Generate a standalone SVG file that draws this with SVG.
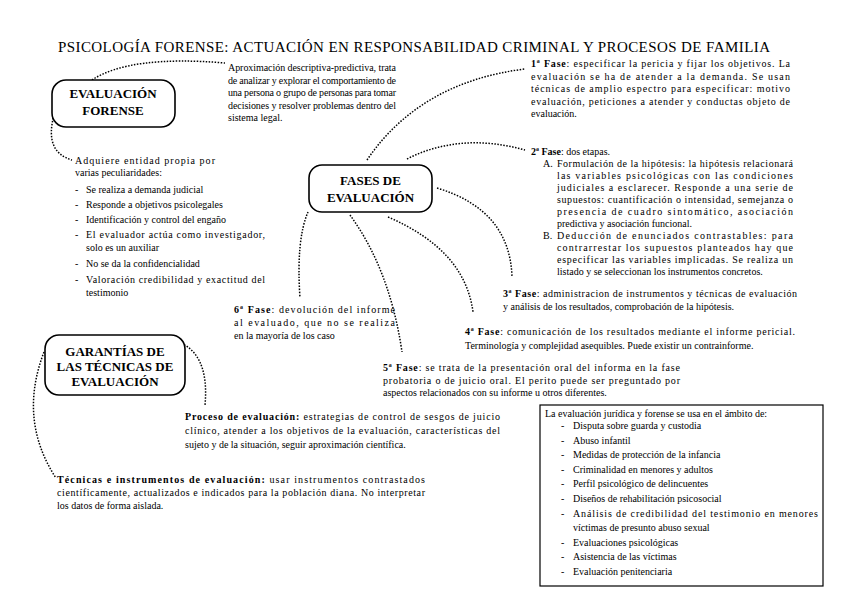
<svg xmlns="http://www.w3.org/2000/svg" width="848" height="599" viewBox="0 0 848 599">
<style>
text{font-family:"Liberation Serif","DejaVu Serif",serif;fill:#000}
.t{font-size:10px}
.h{font-size:13px;font-weight:bold;text-anchor:middle}
.title{font-size:15px}
.node{fill:#fff;stroke:#000;stroke-width:1.6}
.conn path{fill:none;stroke:#000;stroke-width:1.5;stroke-dasharray:1.5,1.5}
.box{fill:#fff;stroke:#000;stroke-width:1.2}
</style>
<rect width="848" height="599" fill="#fff"/>
<text class="title" x="58" y="52" textLength="712" lengthAdjust="spacing">PSICOLOGÍA FORENSE: ACTUACIÓN EN RESPONSABILIDAD CRIMINAL Y PROCESOS DE FAMILIA</text>

<g id="connectors" class="conn">
<path d="M92,80 Q130,55 225,63"/>
<path d="M54,115 Q44,152 72,160"/>
<path d="M367,160 Q420,82 525,69"/>
<path d="M407,159 Q460,132 525,150"/>
<path d="M437,188 Q510,210 512,277"/>
<path d="M388,217 Q465,250 473,312"/>
<path d="M350,215 Q390,270 402,352"/>
<path d="M308,212 Q296,240 300,298"/>
<path d="M173,340 Q210,350 205,405"/>
<path d="M44,352 Q18,420 56,478"/>
</g>

<g id="evaluacion-forense">
<rect class="node" x="52" y="80" width="123" height="47" rx="14"/>
<text class="h" x="113" y="98">EVALUACIÓN</text>
<text class="h" x="113" y="115">FORENSE</text>
</g>

<g id="aproximacion">
<text class="t" x="228" y="71" textLength="168" lengthAdjust="spacing">Aproximación descriptiva-predictiva, trata</text>
<text class="t" x="228" y="83.5" textLength="168" lengthAdjust="spacing">de analizar y explorar el comportamiento de</text>
<text class="t" x="228" y="96" textLength="168" lengthAdjust="spacing">una persona o grupo de personas para tomar</text>
<text class="t" x="228" y="108.5" textLength="168" lengthAdjust="spacing">decisiones y resolver problemas dentro del</text>
<text class="t" x="228" y="121">sistema legal.</text>
</g>

<g id="peculiaridades">
<text class="t" x="75" y="164" textLength="140" lengthAdjust="spacing">Adquiere entidad propia por</text>
<text class="t" x="75" y="176">varias peculiaridades:</text>
<text class="t" x="75" y="193">-</text><text class="t" x="86" y="193">Se realiza a demanda judicial</text>
<text class="t" x="75" y="208">-</text><text class="t" x="86" y="208">Responde a objetivos psicolegales</text>
<text class="t" x="75" y="223">-</text><text class="t" x="86" y="223">Identificación y control del engaño</text>
<text class="t" x="75" y="238">-</text><text class="t" x="86" y="238" textLength="179" lengthAdjust="spacing">El evaluador actúa como investigador,</text>
<text class="t" x="86" y="251">solo es un auxiliar</text>
<text class="t" x="75" y="267">-</text><text class="t" x="86" y="267">No se da la confidencialidad</text>
<text class="t" x="75" y="283">-</text><text class="t" x="86" y="283" textLength="179" lengthAdjust="spacing">Valoración credibilidad y exactitud del</text>
<text class="t" x="86" y="296">testimonio</text>
</g>

<g id="fases-de-evaluacion">
<rect class="node" x="309" y="165" width="123" height="47" rx="13"/>
<text class="h" x="370.5" y="185">FASES DE</text>
<text class="h" x="370.5" y="202">EVALUACIÓN</text>
</g>

<g id="fase1">
<text class="t" x="531" y="67" textLength="259" lengthAdjust="spacing"><tspan font-weight="bold">1ª Fase</tspan>: especificar la pericia y fijar los objetivos. La</text>
<text class="t" x="531" y="79.5" textLength="259" lengthAdjust="spacing">evaluación se ha de atender a la demanda. Se usan</text>
<text class="t" x="531" y="92" textLength="259" lengthAdjust="spacing">técnicas de amplio espectro para especificar: motivo</text>
<text class="t" x="531" y="104.5" textLength="259" lengthAdjust="spacing">evaluación, peticiones a atender y conductas objeto de</text>
<text class="t" x="531" y="117">evaluación.</text>
</g>

<g id="fase2">
<text class="t" x="531" y="155"><tspan font-weight="bold">2ª Fase</tspan>: dos etapas.</text>
<text class="t" x="543" y="167">A.</text>
<text class="t" x="557" y="167" textLength="236" lengthAdjust="spacing">Formulación de la hipótesis: la hipótesis relacionará</text>
<text class="t" x="557" y="179" textLength="236" lengthAdjust="spacing">las variables psicológicas con las condiciones</text>
<text class="t" x="557" y="191" textLength="236" lengthAdjust="spacing">judiciales a esclarecer. Responde a una serie de</text>
<text class="t" x="557" y="203" textLength="236" lengthAdjust="spacing">supuestos: cuantificación o intensidad, semejanza o</text>
<text class="t" x="557" y="215" textLength="236" lengthAdjust="spacing">presencia de cuadro sintomático, asociación</text>
<text class="t" x="557" y="227">predictiva y asociación funcional.</text>
<text class="t" x="543" y="239">B.</text>
<text class="t" x="557" y="239" textLength="236" lengthAdjust="spacing">Deducción de enunciados contrastables: para</text>
<text class="t" x="557" y="251" textLength="236" lengthAdjust="spacing">contrarrestar los supuestos planteados hay que</text>
<text class="t" x="557" y="263" textLength="236" lengthAdjust="spacing">especificar las variables implicadas. Se realiza un</text>
<text class="t" x="557" y="275">listado y se seleccionan los instrumentos concretos.</text>
</g>

<g id="fase3">
<text class="t" x="503" y="297" textLength="294" lengthAdjust="spacing"><tspan font-weight="bold">3ª Fase</tspan>: administracion de instrumentos y técnicas de evaluación</text>
<text class="t" x="503" y="310">y análisis de los resultados, comprobación de la hipótesis.</text>
</g>

<g id="fase4">
<text class="t" x="465" y="335" textLength="330" lengthAdjust="spacing"><tspan font-weight="bold">4ª Fase</tspan>: comunicación de los resultados mediante el informe pericial.</text>
<text class="t" x="465" y="349">Terminología y complejidad asequibles. Puede existir un contrainforme.</text>
</g>

<g id="fase5">
<text class="t" x="383" y="371" textLength="297" lengthAdjust="spacing"><tspan font-weight="bold">5ª Fase</tspan>: se trata de la presentación oral del informa en la fase</text>
<text class="t" x="383" y="384" textLength="297" lengthAdjust="spacing">probatoria o de juicio oral. El perito puede ser preguntado por</text>
<text class="t" x="383" y="396">aspectos relacionados con su informe u otros diferentes.</text>
</g>

<g id="fase6">
<text class="t" x="234" y="313" textLength="161" lengthAdjust="spacing"><tspan font-weight="bold">6ª Fase</tspan>: devolución del informe</text>
<text class="t" x="234" y="326" textLength="161" lengthAdjust="spacing">al evaluado, que no se realiza</text>
<text class="t" x="234" y="339">en la mayoría de los caso</text>
</g>

<g id="garantias">
<rect class="node" x="45" y="335" width="140" height="60" rx="14"/>
<text class="h" x="115" y="356">GARANTÍAS DE</text>
<text class="h" x="115" y="371">LAS TÉCNICAS DE</text>
<text class="h" x="115" y="386">EVALUACIÓN</text>
</g>

<g id="proceso">
<text class="t" x="185" y="420" textLength="315" lengthAdjust="spacing"><tspan font-weight="bold">Proceso de evaluación:</tspan> estrategias de control de sesgos de juicio</text>
<text class="t" x="185" y="434" textLength="315" lengthAdjust="spacing">clínico, atender a los objetivos de la evaluación, características del</text>
<text class="t" x="185" y="448">sujeto y de la situación, seguir aproximación científica.</text>
</g>

<g id="tecnicas">
<text class="t" x="57" y="483" textLength="368" lengthAdjust="spacing"><tspan font-weight="bold">Técnicas e instrumentos de evaluación:</tspan> usar instrumentos contrastados</text>
<text class="t" x="57" y="496" textLength="368" lengthAdjust="spacing">científicamente, actualizados e indicados para la población diana. No interpretar</text>
<text class="t" x="57" y="509">los datos de forma aislada.</text>
</g>

<g id="ambito">
<rect class="box" x="540" y="405" width="283" height="181"/>
<text class="t" x="545" y="417">La evaluación jurídica y forense se usa en el ámbito de:</text>
<text class="t" x="561" y="429">-</text><text class="t" x="573" y="429">Disputa sobre guarda y custodia</text>
<text class="t" x="561" y="444">-</text><text class="t" x="573" y="444">Abuso infantil</text>
<text class="t" x="561" y="458">-</text><text class="t" x="573" y="458">Medidas de protección de la infancia</text>
<text class="t" x="561" y="473">-</text><text class="t" x="573" y="473">Criminalidad en menores y adultos</text>
<text class="t" x="561" y="487">-</text><text class="t" x="573" y="487">Perfil psicológico de delincuentes</text>
<text class="t" x="561" y="502">-</text><text class="t" x="573" y="502">Diseños de rehabilitación psicosocial</text>
<text class="t" x="561" y="517">-</text><text class="t" x="573" y="517" textLength="245" lengthAdjust="spacing">Análisis de credibilidad del testimonio en menores</text>
<text class="t" x="573" y="531">víctimas de presunto abuso sexual</text>
<text class="t" x="561" y="546">-</text><text class="t" x="573" y="546">Evaluaciones psicológicas</text>
<text class="t" x="561" y="560">-</text><text class="t" x="573" y="560">Asistencia de las víctimas</text>
<text class="t" x="561" y="575">-</text><text class="t" x="573" y="575">Evaluación penitenciaria</text>
</g>
</svg>
